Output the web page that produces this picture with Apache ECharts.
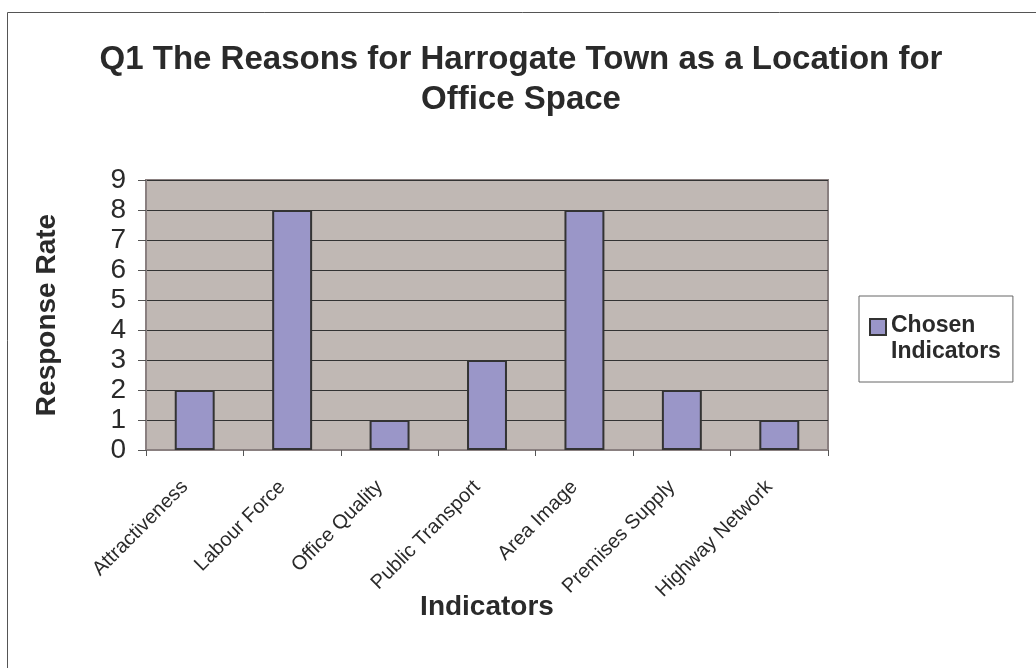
<!DOCTYPE html>
<html>
<head>
<meta charset="utf-8">
<script src="https://cdn.jsdelivr.net/npm/echarts@6/dist/echarts.min.js"></script>
<style>
  html, body { margin: 0; padding: 0; background: #fff; }
  #chart { width: 1036px; height: 668px; }
</style>
</head>
<body>
<div id="chart"></div>
<script>
// categories and values
const categories = ['Attractiveness', 'Labour Force', 'Office Quality', 'Public Transport', 'Area Image', 'Premises Supply', 'Highway Network'];
const chosenIndicators = [2, 8, 1, 3, 8, 2, 1];
const yTicks = [0, 9, 1]; // min, max, interval

const font = 'Liberation Sans, Arial, sans-serif';

const option = {
  animation: false,
  textStyle: { fontFamily: font },
  title: {
    text: 'Q1 The Reasons for Harrogate Town as a Location for\nOffice Space',
    left: 516,
    top: 35,
    textAlign: 'center',
    textStyle: { fontSize: 33, fontWeight: 'bold', color: '#2a2a2a', lineHeight: 40, fontFamily: font }
  },
  graphic: [
    {
      type: 'rect',
      shape: { x: 7.5, y: 12.5, width: 1040, height: 680 },
      style: { fill: 'none', stroke: '#555', lineWidth: 1 },
      silent: true
    }
  ],
  legend: {
    left: 859,
    top: 296,
    orient: 'vertical',
    padding: [17, 12, 17, 10],
    borderColor: '#666',
    borderWidth: 1,
    backgroundColor: '#fff',
    // square sits on the first text line; the rest of the box is empty
    icon: 'path://M0,0 L16,0 L16,16 L0,16 Z M0,40 L0,40',
    itemWidth: 16,
    itemHeight: 40,
    itemGap: 6,
    formatter: function () { return 'Chosen\nIndicators'; },
    textStyle: { fontSize: 23, fontWeight: 'bold', color: '#2a2a2a', lineHeight: 26, fontFamily: font }
  },
  grid: {
    left: 146,
    top: 180,
    width: 682,
    height: 270,
    show: true,
    backgroundColor: '#C0B8B4',
    borderColor: '#8a8080',
    borderWidth: 2
  },
  xAxis: {
    type: 'category',
    data: categories,
    name: 'Indicators',
    nameLocation: 'middle',
    nameGap: 143,
    nameMoveOverlap: false,
    nameTextStyle: { fontSize: 28, fontWeight: 'bold', color: '#2a2a2a', fontFamily: font },
    axisLine: { lineStyle: { color: '#8a8080', width: 2 } },
    axisTick: { show: true, length: 6, lineStyle: { color: '#555' } },
    axisLabel: { rotate: 45, fontSize: 20, color: '#2a2a2a', margin: 24, padding: [0, 14, 0, 0], fontFamily: font }
  },
  yAxis: {
    type: 'value',
    min: yTicks[0],
    max: yTicks[1],
    interval: yTicks[2],
    name: 'Response Rate',
    nameLocation: 'middle',
    nameGap: 85,
    nameRotate: 90,
    nameTextStyle: { fontSize: 28, fontWeight: 'bold', color: '#2a2a2a', fontFamily: font },
    axisLine: { show: true, lineStyle: { color: '#8a8080', width: 2 } },
    axisTick: { show: true, length: 8, lineStyle: { color: '#555' } },
    axisLabel: { fontSize: 28, color: '#2a2a2a', margin: 20, fontFamily: font },
    splitLine: { show: true, lineStyle: { color: '#333', width: 1 } }
  },
  series: [
    {
      name: 'Chosen Indicators',
      type: 'bar',
      data: chosenIndicators,
      barWidth: '41%',
      itemStyle: { color: '#9A96C8', borderColor: '#333', borderWidth: 2 }
    }
  ]
};

const myChart = echarts.init(document.getElementById('chart'));
myChart.setOption(option, true);
</script>
</body>
</html>
